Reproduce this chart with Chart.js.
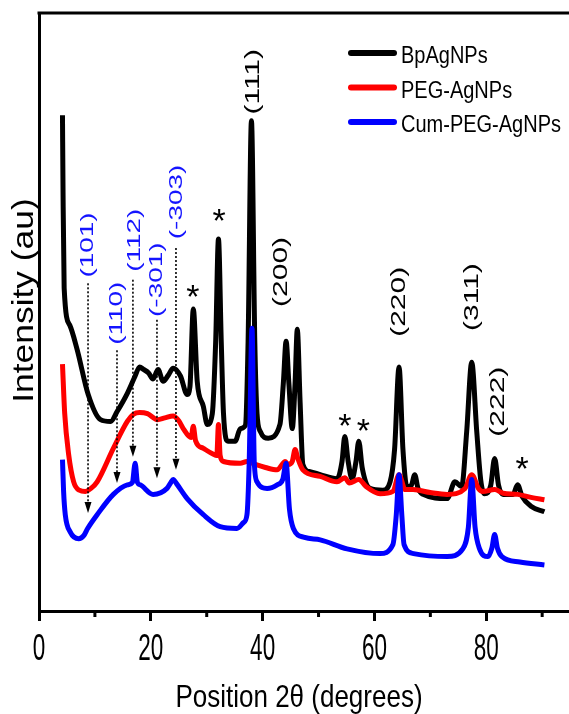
<!DOCTYPE html>
<html>
<head>
<meta charset="utf-8">
<script src="https://cdn.jsdelivr.net/npm/chart.js@4.4.0/dist/chart.umd.min.js"></script>
<style>
    html, body { margin: 0; padding: 0; background: #fff; }
    #wrap { width: 569px; height: 714px; }
</style>
</head>
<body>
<div id="wrap"><canvas id="grafico" width="569" height="714"></canvas></div>
<script>
const seriesNames = ['BpAgNPs', 'PEG-AgNPs', 'Cum-PEG-AgNPs'];

const blackX = [4.2, 4.3, 4.5, 5.5, 6.8, 8.8, 11.0, 12.8, 14.0, 15.8, 17.2, 18.0, 18.7, 19.6, 20.4, 21.3, 22.2, 23.1, 24.0, 25.3, 26.5, 27.0, 27.6, 28.3, 29.4, 30.1, 31.0, 31.6, 32.1, 32.6, 33.0, 33.8, 35.1, 36.0, 36.9, 37.4, 38.0, 38.6, 39.0, 39.6, 41.0, 43.1, 43.7, 44.2, 44.7, 45.3, 45.8, 46.2, 46.7, 47.2, 48.5, 50.3, 53.3, 54.2, 54.7, 55.3, 56.0, 56.7, 57.2, 57.8, 59.2, 61.5, 62.8, 63.6, 64.4, 65.1, 65.8, 66.6, 67.2, 67.8, 68.7, 73.0, 74.4, 75.6, 76.5, 77.4, 78.3, 79.0, 79.7, 80.8, 81.5, 82.2, 83.0, 84.8, 85.6, 86.4, 88.0, 90.4];
const blackY = [82.9, 70.0, 54.0, 47.8, 43.8, 36.2, 32.0, 31.7, 33.4, 36.4, 39.3, 40.8, 40.4, 39.8, 38.8, 40.4, 38.4, 39.4, 40.6, 39.3, 36.2, 37.5, 50.5, 38.4, 34.2, 31.2, 33.0, 45.0, 62.2, 45.0, 33.0, 28.4, 28.4, 30.5, 31.0, 45.0, 82.0, 45.0, 33.0, 30.0, 28.9, 31.2, 38.0, 45.1, 38.0, 30.5, 38.0, 47.1, 35.0, 24.5, 23.3, 22.8, 22.1, 25.0, 29.2, 25.0, 22.1, 25.0, 28.4, 24.0, 20.5, 20.2, 21.6, 27.0, 40.8, 27.0, 20.8, 21.0, 22.8, 20.5, 19.5, 18.8, 21.6, 20.8, 30.0, 41.6, 30.0, 22.0, 19.6, 21.0, 25.5, 21.0, 19.5, 19.5, 21.1, 19.2, 17.5, 16.6];

const redX = [4.2, 4.6, 5.3, 6.2, 7.2, 8.3, 9.3, 10.4, 13.3, 15.8, 16.9, 18.0, 19.4, 21.2, 22.5, 24.0, 25.0, 25.8, 27.2, 27.6, 28.0, 29.4, 31.2, 31.8, 32.1, 32.4, 33.0, 36.0, 37.2, 38.7, 40.5, 42.6, 43.5, 44.0, 44.6, 45.3, 45.8, 46.3, 47.2, 50.3, 53.3, 54.7, 55.5, 57.2, 58.5, 61.0, 63.3, 64.4, 65.5, 66.9, 70.0, 73.0, 76.2, 77.4, 78.6, 79.4, 81.5, 83.0, 85.6, 88.0, 90.4];
const redY = [41.3, 33.0, 26.2, 21.6, 20.2, 20.0, 20.5, 21.6, 27.2, 31.7, 32.9, 33.2, 33.0, 32.0, 32.3, 32.6, 31.8, 30.5, 29.0, 30.9, 28.5, 27.2, 26.2, 26.0, 31.2, 26.0, 25.0, 24.7, 25.0, 24.5, 24.0, 23.6, 24.5, 25.0, 24.5, 25.0, 27.0, 25.5, 23.6, 22.5, 21.6, 22.3, 21.4, 22.0, 20.8, 19.6, 20.0, 22.8, 20.3, 20.3, 19.8, 19.5, 20.5, 22.8, 20.5, 20.0, 20.3, 19.7, 19.5, 19.0, 18.6];

const blueX = [4.2, 4.4, 4.7, 5.6, 7.1, 8.0, 8.7, 10.4, 13.3, 15.8, 16.7, 17.2, 17.6, 18.1, 20.4, 22.9, 23.6, 24.0, 24.6, 26.5, 29.4, 32.4, 35.4, 36.6, 37.2, 37.6, 38.1, 38.5, 39.0, 40.8, 42.6, 43.6, 44.2, 44.8, 45.5, 47.5, 50.3, 55.1, 61.0, 63.3, 63.9, 64.4, 64.9, 65.3, 67.0, 73.0, 75.8, 76.8, 77.4, 78.0, 78.8, 80.3, 81.0, 81.5, 82.0, 82.8, 86.0, 90.4];
const blueY = [25.3, 20.0, 16.1, 13.2, 12.1, 12.6, 13.8, 16.1, 19.5, 21.1, 21.5, 24.7, 21.5, 21.1, 19.5, 20.5, 21.5, 22.0, 21.3, 18.8, 16.1, 14.1, 13.8, 14.8, 16.1, 25.0, 47.3, 25.0, 21.6, 20.5, 21.1, 22.0, 24.7, 17.0, 13.8, 12.3, 11.9, 10.4, 9.6, 11.1, 16.0, 22.8, 16.0, 11.1, 9.6, 9.1, 10.4, 14.0, 22.0, 14.0, 10.4, 9.1, 10.5, 12.8, 10.5, 9.1, 8.2, 7.7];

// Eixo x
const tickValues = [0, 20, 40, 60, 80];
const tickLabels = ['0', '20', '40', '60', '80'];
const minorTicks = [10, 30, 50, 70, 90];
const xTitle = 'Position 2θ (degrees)';
const yTitle = 'Intensity (au)';

// Planos do composto orgânico (azul) com setas pontilhadas
const planeText = ['(101)', '(110)', '(112)', '(-301)', '(-303)'];
const planeX = [8.77, 13.95, 17.2, 21.1, 24.7];
const planeY = [61.2, 49.8, 62.0, 55.4, 68.4];
const arrowX = [8.77, 13.95, 16.8, 21.1, 24.5];
const arrowTop = [54.8, 43.6, 55.4, 48.7, 60.7];
const arrowTip = [16.4, 21.4, 25.8, 22.2, 23.6];

// Planos da prata (preto)
const agText = ['(111)', '(200)', '(220)', '(311)', '(222)'];
const agX = [38.3, 43.3, 64.4, 77.5, 82.1];
const agY = [88.5, 56.7, 51.7, 52.5, 35.0];

// Asteriscos
const starX = [27.5, 32.2, 54.7, 58.0, 86.4];
const starY = [54.0, 66.7, 32.4, 31.6, 25.3];

const FONTE = '"Liberation Sans", Arial, sans-serif';

function texto(ctx, str, x, y, size, sy, rot, color, align, base) {
    ctx.save();
    ctx.translate(x, y);
    ctx.scale(1, sy);
    ctx.rotate(rot);
    ctx.font = `${size}px ${FONTE}`;
    ctx.fillStyle = color;
    ctx.textAlign = align;
    ctx.textBaseline = base;
    ctx.fillText(str, 0, 0);
    ctx.restore();
}

const anotacoes = {
    id: 'anotacoes',
    afterDraw(chart) {
        const { ctx, chartArea: a } = chart;
        const x = chart.scales.x;
        const y = chart.scales.y;

        ctx.save();
        ctx.strokeStyle = '#000';
        ctx.lineWidth = 3;
        // borda superior
        ctx.beginPath();
        ctx.moveTo(a.left - 1.5, a.top);
        ctx.lineTo(a.right, a.top);
        ctx.stroke();
        // ticks menores
        minorTicks.forEach(v => {
            const px = x.getPixelForValue(v);
            ctx.beginPath();
            ctx.moveTo(px, a.bottom);
            ctx.lineTo(px, a.bottom + 6);
            ctx.stroke();
        });
        ctx.restore();

        // rótulos do eixo x
        tickValues.forEach((v, i) => {
            texto(ctx, tickLabels[i], x.getPixelForValue(v), a.bottom + 49, 22.5, 1.68, 0, '#000', 'center', 'alphabetic');
        });
        texto(ctx, xTitle, (a.left + a.right) / 2 - 5, a.bottom + 96, 26, 1.18, 0, '#000', 'center', 'alphabetic');
        texto(ctx, yTitle, 33, (a.top + a.bottom) / 2 - 11.5, 29, 1.22, -Math.PI / 2, '#000', 'center', 'alphabetic');

        // setas pontilhadas
        ctx.save();
        ctx.strokeStyle = '#000';
        ctx.fillStyle = '#000';
        arrowX.forEach((v, i) => {
            const px = x.getPixelForValue(v);
            const top = y.getPixelForValue(arrowTop[i]);
            const tip = y.getPixelForValue(arrowTip[i]);
            ctx.setLineDash([2, 2]);
            ctx.lineWidth = 1.6;
            ctx.beginPath();
            ctx.moveTo(px, top);
            ctx.lineTo(px, tip - 10);
            ctx.stroke();
            ctx.setLineDash([]);
            ctx.beginPath();
            ctx.moveTo(px - 3.5, tip - 11);
            ctx.lineTo(px + 3.5, tip - 11);
            ctx.lineTo(px, tip);
            ctx.closePath();
            ctx.fill();
        });
        ctx.restore();

        planeText.forEach((t, i) => {
            texto(ctx, t, x.getPixelForValue(planeX[i]), y.getPixelForValue(planeY[i]), 19, 1.47, -Math.PI / 2, '#1414ff', 'center', 'middle');
        });
        agText.forEach((t, i) => {
            texto(ctx, t, x.getPixelForValue(agX[i]), y.getPixelForValue(agY[i]), 20, 1.5, -Math.PI / 2, '#000', 'center', 'middle');
        });
        starX.forEach((v, i) => {
            texto(ctx, '*', x.getPixelForValue(v), y.getPixelForValue(starY[i]) + 20, 34, 1.0, 0, '#000', 'center', 'alphabetic');
        });

        // legenda
        chart.data.datasets.forEach((ds, i) => {
            const ly = 53 + i * 34.5;
            ctx.save();
            ctx.strokeStyle = ds.borderColor;
            ctx.lineWidth = 6;
            ctx.lineCap = 'round';
            ctx.beginPath();
            ctx.moveTo(351, ly);
            ctx.lineTo(394, ly);
            ctx.stroke();
            ctx.restore();
            texto(ctx, ds.label, 401, ly + 10, 20, 1.16, 0, '#000', 'left', 'alphabetic');
        });
    }
};

function pontos(xs, ys) {
    return xs.map((v, i) => ({ x: v, y: ys[i] }));
}

const ctx = document.getElementById('grafico');
new Chart(ctx, {
    type: 'line',
    data: {
        datasets: [{
            label: seriesNames[0],
            data: pontos(blackX, blackY),
            borderColor: '#000000',
            order: 2
        }, {
            label: seriesNames[1],
            data: pontos(redX, redY),
            borderColor: '#ff0000',
            order: 1
        }, {
            label: seriesNames[2],
            data: pontos(blueX, blueY),
            borderColor: '#0000ff',
            order: 0
        }]
    },
    options: {
        responsive: false,
        animation: false,
        devicePixelRatio: 1,
        layout: { padding: { top: 13, left: 0, right: 0, bottom: 0 } },
        elements: {
            line: { borderWidth: 5, cubicInterpolationMode: 'monotone', borderJoinStyle: 'round' },
            point: { radius: 0 }
        },
        plugins: {
            legend: { display: false },
            tooltip: { enabled: false }
        },
        scales: {
            x: {
                type: 'linear',
                min: 0,
                max: 94.8,
                ticks: { display: false, stepSize: 10, includeBounds: false },
                grid: {
                    drawOnChartArea: false,
                    drawTicks: true,
                    tickLength: 10,
                    tickWidth: 3,
                    tickColor: (c) => (c.tick && c.tick.value % 20 === 0) ? '#000' : 'rgba(0,0,0,0)'
                },
                border: { display: true, color: '#000', width: 3 },
                afterFit: (scale) => { scale.height = 103; }
            },
            y: {
                min: 0,
                max: 100,
                ticks: { display: false },
                grid: { display: false },
                border: { display: true, color: '#000', width: 3 },
                afterFit: (scale) => { scale.width = 39; }
            }
        }
    },
    plugins: [anotacoes]
});
</script>
</body>
</html>
